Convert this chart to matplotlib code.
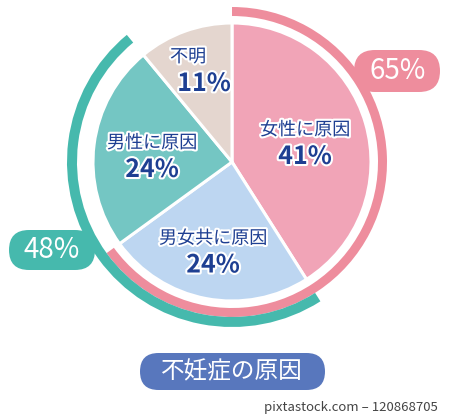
import matplotlib
matplotlib.use('Agg')
import matplotlib.pyplot as plt
import matplotlib.patheffects as pe
from matplotlib.patches import FancyBboxPatch

plt.rcParams['font.family'] = ['Noto Sans CJK JP', 'DejaVu Sans']

# slices, clockwise from 12 o'clock
causes = ['女性に原因', '男女共に原因', '男性に原因', '不明']
shares = [41, 24, 24, 11]
slice_colors = ['#f1a4b7', '#bdd6f1', '#74c6c3', '#e4d6cf']

female_total = shares[0] + shares[1]   # 65
male_total = shares[1] + shares[2]     # 48
title = '不妊症の原因'

navy = '#1e3f92'
pink_arc = '#ee8d9d'
teal_arc = '#46b9ad'

fig = plt.figure(figsize=(4.5, 4.16), dpi=100)
ax = fig.add_axes([0, 0, 1, 1])

cx, cy = 232, 254

# main pie
ax.pie(shares, colors=slice_colors, startangle=90, counterclock=False,
       center=(cx, cy), radius=139,
       wedgeprops=dict(edgecolor='white', linewidth=2.2))

# pink ring: female-related share (0 .. 65%)
ax.pie([female_total, 100 - female_total], colors=[pink_arc, 'none'],
       startangle=90, counterclock=False, center=(cx, cy), radius=155,
       wedgeprops=dict(width=9, linewidth=0))

# teal ring: male-related share (41% .. 89%)
ax.pie([shares[0], male_total, 100 - shares[0] - male_total],
       colors=['none', teal_arc, 'none'],
       startangle=90, counterclock=False, center=(cx, cy), radius=165,
       wedgeprops=dict(width=10, linewidth=0))

ax.set_xlim(0, 450)
ax.set_ylim(0, 416)
ax.set_aspect('equal')
ax.axis('off')

outline = [pe.withStroke(linewidth=3, foreground='white')]
label_pos = [(305, 272.5), (213, 164), (152, 259.5), (188, 345.5)]
for name, val, (x, y) in zip(causes, shares, label_pos):
    ax.text(x, y + 13.5, name, ha='center', va='center', fontsize=13,
            color=navy, path_effects=outline)
    ax.text(x + (16 if name == '不明' else 0), y - 13.5, f'{val}%', ha='center',
            va='center', fontsize=18, fontweight='bold', color=navy,
            path_effects=outline)


def pill(x0, y0, w, h, color, z=1):
    ax.add_patch(FancyBboxPatch((x0, y0), w, h,
                                boxstyle=f'round,pad=0,rounding_size={h / 2}',
                                fc=color, ec='none', zorder=z))


# total callouts
pill(354, 324, 86, 42, pink_arc, z=0.5)
ax.text(398, 345, f'{female_total}%', ha='center', va='center', fontsize=20,
        color='white')
pill(9, 146, 86, 40, teal_arc, z=0.5)
ax.text(52, 166, f'{male_total}%', ha='center', va='center', fontsize=20,
        color='white')

# title pill
pill(140, 26, 185, 37, '#5877bd')
ax.text(232, 44.5, title, ha='center', va='center', fontsize=17, color='white')

ax.text(438, 8, 'pixtastock.com – 120868705', ha='right', va='center',
        fontsize=9.5, color='#444444')

fig.savefig('out.png', dpi=100)
